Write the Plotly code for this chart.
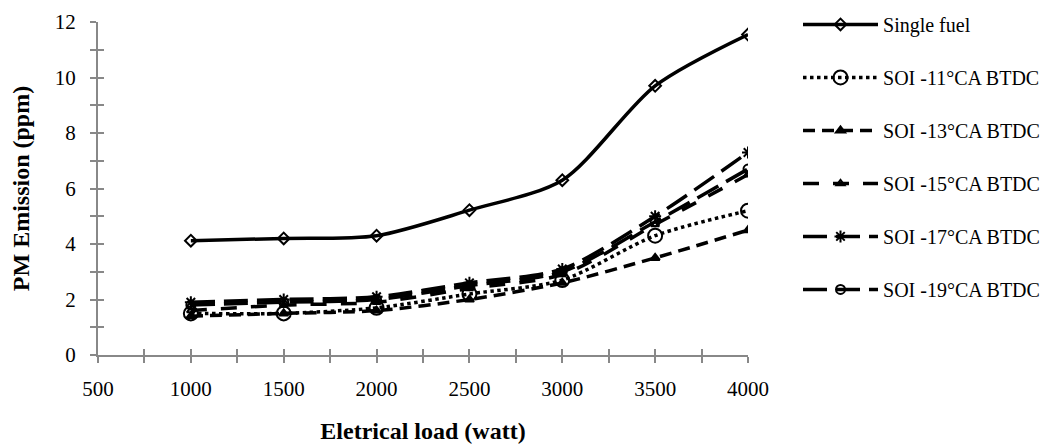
import plotly.graph_objects as go

loads = [1000, 1500, 2000, 2500, 3000, 3500, 4000]
single_fuel = [4.12, 4.2, 4.3, 5.22, 6.3, 9.7, 11.55]
soi_11 = [1.5, 1.5, 1.7, 2.2, 2.7, 4.3, 5.2]
soi_13 = [1.4, 1.5, 1.6, 2.0, 2.6, 3.5, 4.5]
soi_15 = [1.6, 1.8, 1.9, 2.4, 2.9, 4.7, 6.5]
soi_17 = [1.9, 2.0, 2.1, 2.6, 3.1, 5.0, 7.3]
soi_19 = [1.8, 1.9, 2.0, 2.5, 3.0, 4.8, 6.7]

series = [
    ("Single fuel", single_fuel, "solid", "diamond-open", 9),
    ("SOI -11°CA BTDC", soi_11, "dot", "circle-open", 14),
    ("SOI -13°CA BTDC", soi_13, "12px,7px", "triangle-up", 8),
    ("SOI -15°CA BTDC", soi_15, "16px,14px", "triangle-up-open", 7),
    ("SOI -17°CA BTDC", soi_17, "24px,9px", "asterisk-open", 10),
    ("SOI -19°CA BTDC", soi_19, "24px,9px", "circle-open", 9),
]

fig = go.Figure()
for name, vals, dash, sym, size in series:
    fig.add_trace(go.Scatter(
        x=loads, y=vals, name=name, mode="lines+markers",
        line=dict(color="black", width=3.5, dash=dash, shape="spline", smoothing=0.8),
        marker=dict(symbol=sym, size=size, color="black",
                    line=dict(color="black", width=2)),
        legendgroup=name,
    ))

font_family = "Liberation Serif, Times New Roman, serif"
fig.update_layout(
    width=1055, height=447,
    margin=dict(l=98, r=307, t=22, b=92),
    plot_bgcolor="white", paper_bgcolor="white",
    font=dict(family=font_family, size=21, color="black"),
    showlegend=True,
    legend=dict(x=0.7564, y=0.989, xref="container", yref="container",
                xanchor="left", yanchor="top",
                font=dict(family=font_family, size=20, color="black"),
                tracegroupgap=24, itemwidth=75, bgcolor="rgba(0,0,0,0)",
                borderwidth=0, maxheight=440),
    xaxis=dict(range=[500, 4000], dtick=500, tick0=500, automargin=False,
               showline=True, linecolor="#888888", linewidth=2,
               ticks="outside", ticklen=6, tickwidth=2, tickcolor="#888888",
               minor=dict(dtick=250, ticks="outside", ticklen=6, tickwidth=2, tickcolor="#888888"),
               showgrid=False, zeroline=False, ticklabelstandoff=8,
               title=dict(text="<b>Eletrical load (watt)</b>", standoff=22,
                          font=dict(size=24)),
               tickfont=dict(size=21)),
    yaxis=dict(range=[0, 12], dtick=2, automargin=False,
               showline=True, linecolor="#888888", linewidth=2,
               ticks="outside", ticklen=6, tickwidth=2, tickcolor="#888888",
               minor=dict(dtick=1, ticks="outside", ticklen=6, tickwidth=2, tickcolor="#888888"),
               showgrid=False, zeroline=False, ticklabelstandoff=10,
               title=dict(text="<b>PM Emission (ppm)</b>", standoff=18,
                          font=dict(size=24)),
               tickfont=dict(size=21)),
    xaxis2=dict(overlaying="x", matches="x", range=[500, 4000], dtick=250, tick0=500,
                ticks="inside", ticklen=6, tickwidth=2, tickcolor="#888888",
                showticklabels=False, showgrid=False, zeroline=False, showline=False,
                side="bottom", automargin=False),
    yaxis2=dict(overlaying="y", matches="y", range=[0, 12], dtick=1,
                ticks="inside", ticklen=6, tickwidth=2, tickcolor="#888888",
                showticklabels=False, showgrid=False, zeroline=False, showline=False,
                side="left", automargin=False),
)
fig.add_trace(go.Scatter(x=[None], y=[None], xaxis="x2", yaxis="y2",
                         showlegend=False, hoverinfo="skip"))

fig.write_html("out.html")
